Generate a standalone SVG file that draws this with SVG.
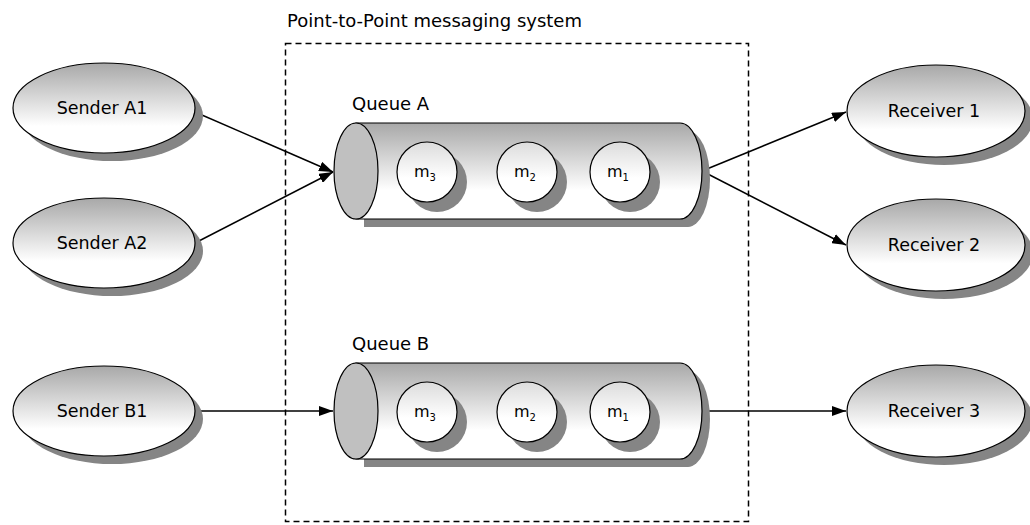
<svg xmlns="http://www.w3.org/2000/svg" width="1030" height="525" viewBox="0 0 1030 525">
<style>
text{font-family:"DejaVu Sans","Liberation Sans",sans-serif;fill:#000}
.lbl{font-size:17.5px;text-anchor:middle}
.ttl{font-size:18px}
.ql{font-size:18px}
.ml{font-size:16px;text-anchor:middle}
.sub{font-size:10px}
.shadow{fill:#858585}
.node{fill:url(#g);stroke:#000;stroke-width:1.2}
.msg{fill:url(#gm);stroke:#000;stroke-width:1.2}
.cap{fill:#c0c0c0;stroke:#000;stroke-width:1.2}
.conn{stroke:#000;stroke-width:1.5;fill:none;marker-end:url(#ah)}
</style>
<defs>
<linearGradient id="g" x1="0" y1="0" x2="0" y2="1">
<stop offset="0" stop-color="#a8a8a8"/><stop offset="0.7" stop-color="#ffffff"/><stop offset="1" stop-color="#ffffff"/>
</linearGradient>
<linearGradient id="gm" x1="0" y1="0" x2="0" y2="1">
<stop offset="0" stop-color="#dcdcdc"/><stop offset="0.6" stop-color="#ffffff"/><stop offset="1" stop-color="#ffffff"/>
</linearGradient>
<marker id="ah" viewBox="0 0 14 10" refX="14" refY="5" markerWidth="14" markerHeight="10" markerUnits="userSpaceOnUse" orient="auto">
<path d="M0,0 L14,5 L0,10 Z" fill="#000"/>
</marker>
</defs>
<text class="ttl" x="287" y="27">Point-to-Point messaging system</text>
<rect x="285.5" y="43.5" width="463" height="478" fill="none" stroke="#000" stroke-width="1.5" stroke-dasharray="6,4"/>
<g id="connectors">
<line class="conn" x1="195" y1="112" x2="333" y2="172"/>
<line class="conn" x1="195" y1="243" x2="333" y2="172"/>
<line class="conn" x1="702" y1="171" x2="846" y2="112"/>
<line class="conn" x1="702" y1="171" x2="846" y2="245"/>
<line class="conn" x1="195" y1="411" x2="333" y2="411"/>
<line class="conn" x1="702" y1="411" x2="846" y2="411"/>
</g>
<g id="senderA1"><ellipse class="shadow" cx="112" cy="116" rx="91" ry="45"/><ellipse class="node" cx="104" cy="108" rx="91" ry="45"/><text class="lbl" x="102" y="114">Sender A1</text></g>
<g id="senderA2"><ellipse class="shadow" cx="112" cy="251" rx="91" ry="45"/><ellipse class="node" cx="104" cy="243" rx="91" ry="45"/><text class="lbl" x="102" y="249">Sender A2</text></g>
<g id="senderB1"><ellipse class="shadow" cx="112" cy="419" rx="91" ry="45"/><ellipse class="node" cx="104" cy="411" rx="91" ry="45"/><text class="lbl" x="102" y="417">Sender B1</text></g>
<g id="receiver1"><ellipse class="shadow" cx="944" cy="119" rx="89" ry="46"/><ellipse class="node" cx="936" cy="111" rx="89" ry="46"/><text class="lbl" x="934" y="117">Receiver 1</text></g>
<g id="receiver2"><ellipse class="shadow" cx="944" cy="253" rx="89" ry="46"/><ellipse class="node" cx="936" cy="245" rx="89" ry="46"/><text class="lbl" x="934" y="251">Receiver 2</text></g>
<g id="receiver3"><ellipse class="shadow" cx="944" cy="419" rx="89" ry="46"/><ellipse class="node" cx="936" cy="411" rx="89" ry="46"/><text class="lbl" x="934" y="417">Receiver 3</text></g>
<g id="queueA">
<text class="ql" x="352" y="110">Queue A</text>
<path class="shadow" d="M364,131 H688 A22,48 0 0 1 688,227 H364 Z"/>
<path class="node" d="M356,123 H680 A22,48 0 0 1 680,219 H356 Z"/>
<ellipse class="cap" cx="356" cy="171" rx="22" ry="48"/>
<circle class="shadow" cx="437" cy="182" r="30"/><circle class="msg" cx="427" cy="172" r="30"/>
<text class="ml" x="425" y="177">m<tspan class="sub" dy="4">3</tspan></text>
<circle class="shadow" cx="537" cy="182" r="30"/><circle class="msg" cx="527" cy="172" r="30"/>
<text class="ml" x="525" y="177">m<tspan class="sub" dy="4">2</tspan></text>
<circle class="shadow" cx="630" cy="182" r="30"/><circle class="msg" cx="620" cy="172" r="30"/>
<text class="ml" x="618" y="177">m<tspan class="sub" dy="4">1</tspan></text>
</g>
<g id="queueB">
<text class="ql" x="352" y="350">Queue B</text>
<path class="shadow" d="M364,371 H688 A22,48 0 0 1 688,467 H364 Z"/>
<path class="node" d="M356,363 H680 A22,48 0 0 1 680,459 H356 Z"/>
<ellipse class="cap" cx="356" cy="411" rx="22" ry="48"/>
<circle class="shadow" cx="437" cy="422" r="30"/><circle class="msg" cx="427" cy="412" r="30"/>
<text class="ml" x="425" y="417">m<tspan class="sub" dy="4">3</tspan></text>
<circle class="shadow" cx="537" cy="422" r="30"/><circle class="msg" cx="527" cy="412" r="30"/>
<text class="ml" x="525" y="417">m<tspan class="sub" dy="4">2</tspan></text>
<circle class="shadow" cx="630" cy="422" r="30"/><circle class="msg" cx="620" cy="412" r="30"/>
<text class="ml" x="618" y="417">m<tspan class="sub" dy="4">1</tspan></text>
</g>
</svg>
